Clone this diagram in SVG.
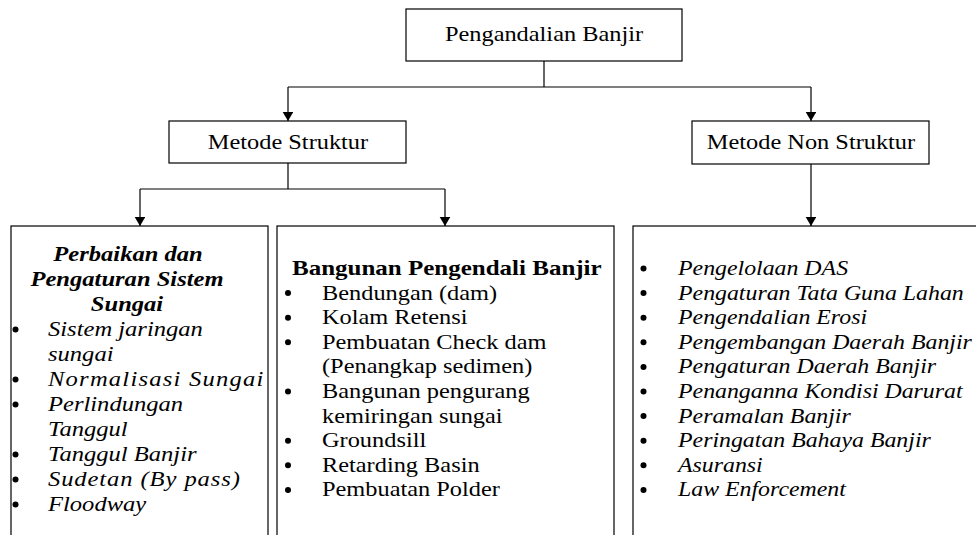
<svg xmlns="http://www.w3.org/2000/svg" width="976" height="535" viewBox="0 0 976 535">
<style>
.bg{fill:#fff}
.box{fill:#fff;stroke:#000;stroke-width:1.2}
.ln{fill:none;stroke:#000;stroke-width:1.2}
.t{font-family:"Liberation Serif","Times New Roman",serif;font-size:21px;fill:#000}
.i{font-style:italic}
.b{font-weight:bold}
.c{text-anchor:middle}
.dot{fill:#000}
</style>
<defs>
<marker id="arr" markerUnits="userSpaceOnUse" markerWidth="10" markerHeight="11" refX="9" refY="5.3" orient="auto">
<path d="M0,0 L9,5.3 L0,10.6 Z" fill="#000"/>
</marker>
</defs>
<rect class="bg" x="0" y="0" width="976" height="535"/>

<g id="connectors">
<path class="ln" d="M544,61 V87"/>
<path class="ln" d="M288,87 H811"/>
<path class="ln" d="M288,87 V121" marker-end="url(#arr)"/>
<path class="ln" d="M811,87 V121" marker-end="url(#arr)"/>
<path class="ln" d="M288,163 V189"/>
<path class="ln" d="M140,189 H445"/>
<path class="ln" d="M140,189 V226" marker-end="url(#arr)"/>
<path class="ln" d="M445,189 V226" marker-end="url(#arr)"/>
<path class="ln" d="M811,164 V226" marker-end="url(#arr)"/>
</g>

<g id="root">
<rect class="box" x="406" y="9" width="276" height="52"/>
<text class="t c" transform="translate(544,41) scale(1.16,1)">Pengandalian Banjir</text>
</g>

<g id="metode-struktur">
<rect class="box" x="169" y="121" width="237" height="42"/>
<text class="t c" transform="translate(288,149) scale(1.16,1)">Metode Struktur</text>
</g>

<g id="metode-non-struktur">
<rect class="box" x="692" y="121" width="237" height="43"/>
<text class="t c" transform="translate(811,149) scale(1.16,1)">Metode Non Struktur</text>
</g>

<g id="perbaikan">
<rect class="box" x="11" y="226" width="257" height="330"/>
<text class="t i b c" transform="translate(128,261) scale(1.17,1)">Perbaikan dan</text>
<text class="t i b c" transform="translate(127,286) scale(1.17,1)">Pengaturan Sistem</text>
<text class="t i b c" transform="translate(127,311) scale(1.17,1)">Sungai</text>
<circle class="dot" cx="15.5" cy="329.5" r="3"/>
<text class="t i" transform="translate(48,336) scale(1.17,1)">Sistem jaringan</text>
<text class="t i" transform="translate(48,361) scale(1.17,1)">sungai</text>
<circle class="dot" cx="15.5" cy="379.5" r="3"/>
<text class="t i" transform="translate(48,386) scale(1.17,1)" textLength="184">Normalisasi Sungai</text>
<circle class="dot" cx="15.5" cy="404.5" r="3"/>
<text class="t i" transform="translate(48,411) scale(1.17,1)">Perlindungan</text>
<text class="t i" transform="translate(48,436) scale(1.17,1)">Tanggul</text>
<circle class="dot" cx="15.5" cy="454.5" r="3"/>
<text class="t i" transform="translate(48,461) scale(1.17,1)">Tanggul Banjir</text>
<circle class="dot" cx="15.5" cy="479.5" r="3"/>
<text class="t i" transform="translate(48,486) scale(1.17,1)" textLength="164">Sudetan (By pass)</text>
<circle class="dot" cx="15.5" cy="504.5" r="3"/>
<text class="t i" transform="translate(48,511) scale(1.17,1)">Floodway</text>
</g>

<g id="bangunan">
<rect class="box" x="277" y="226" width="337" height="330"/>
<text class="t b" transform="translate(292,275) scale(1.19,1)">Bangunan Pengendali Banjir</text>
<circle class="dot" cx="288" cy="293.1" r="3"/>
<text class="t" transform="translate(322,299.6) scale(1.16,1)">Bendungan (dam)</text>
<circle class="dot" cx="288" cy="317.7" r="3"/>
<text class="t" transform="translate(322,324.2) scale(1.16,1)">Kolam Retensi</text>
<circle class="dot" cx="288" cy="342.3" r="3"/>
<text class="t" transform="translate(322,348.8) scale(1.16,1)">Pembuatan Check dam</text>
<text class="t" transform="translate(322,373.4) scale(1.16,1)">(Penangkap sedimen)</text>
<circle class="dot" cx="288" cy="391.5" r="3"/>
<text class="t" transform="translate(322,398) scale(1.16,1)">Bangunan pengurang</text>
<text class="t" transform="translate(322,422.6) scale(1.16,1)">kemiringan sungai</text>
<circle class="dot" cx="288" cy="440.7" r="3"/>
<text class="t" transform="translate(322,447.2) scale(1.16,1)">Groundsill</text>
<circle class="dot" cx="288" cy="465.3" r="3"/>
<text class="t" transform="translate(322,471.8) scale(1.16,1)">Retarding Basin</text>
<circle class="dot" cx="288" cy="489.9" r="3"/>
<text class="t" transform="translate(322,496.4) scale(1.16,1)">Pembuatan Polder</text>
</g>

<g id="non-struktur-list">
<rect class="box" x="633" y="226" width="360" height="330"/>
<circle class="dot" cx="643.5" cy="268.5" r="3"/>
<text class="t i" transform="translate(678,275) scale(1.135,1)">Pengelolaan DAS</text>
<circle class="dot" cx="643.5" cy="293.1" r="3"/>
<text class="t i" transform="translate(678,299.6) scale(1.135,1)">Pengaturan Tata Guna Lahan</text>
<circle class="dot" cx="643.5" cy="317.7" r="3"/>
<text class="t i" transform="translate(678,324.2) scale(1.135,1)">Pengendalian Erosi</text>
<circle class="dot" cx="643.5" cy="342.3" r="3"/>
<text class="t i" transform="translate(678,348.8) scale(1.135,1)">Pengembangan Daerah Banjir</text>
<circle class="dot" cx="643.5" cy="366.9" r="3"/>
<text class="t i" transform="translate(678,373.4) scale(1.135,1)">Pengaturan Daerah Banjir</text>
<circle class="dot" cx="643.5" cy="391.5" r="3"/>
<text class="t i" transform="translate(678,398) scale(1.135,1)">Penanganna Kondisi Darurat</text>
<circle class="dot" cx="643.5" cy="416.1" r="3"/>
<text class="t i" transform="translate(678,422.6) scale(1.135,1)">Peramalan Banjir</text>
<circle class="dot" cx="643.5" cy="440.7" r="3"/>
<text class="t i" transform="translate(678,447.2) scale(1.135,1)">Peringatan Bahaya Banjir</text>
<circle class="dot" cx="643.5" cy="465.3" r="3"/>
<text class="t i" transform="translate(678,471.8) scale(1.135,1)">Asuransi</text>
<circle class="dot" cx="643.5" cy="489.9" r="3"/>
<text class="t i" transform="translate(678,496.4) scale(1.135,1)">Law Enforcement</text>
</g>
</svg>
